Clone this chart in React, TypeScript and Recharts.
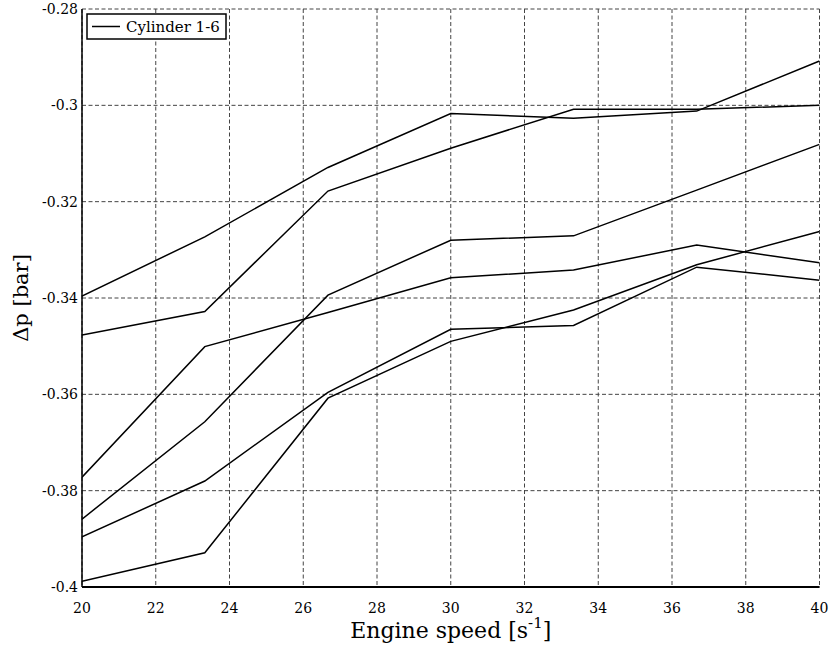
import { LineChart, Line, XAxis, YAxis, CartesianGrid, Label } from 'recharts'

// engine speed [1/s] at each measurement point
const speed = [20, 23.33, 26.67, 30, 33.33, 36.67, 40]

// pressure difference [bar], one array per cylinder
const cyl1 = [-0.3396, -0.3273, -0.3129, -0.3017, -0.3027, -0.3012, -0.2908]
const cyl2 = [-0.3477, -0.3428, -0.3178, -0.3089, -0.3008, -0.3008, -0.3]
const cyl3 = [-0.3772, -0.3501, -0.343, -0.3358, -0.3342, -0.329, -0.3327]
const cyl4 = [-0.3859, -0.3657, -0.3394, -0.328, -0.3271, -0.3176, -0.3081]
const cyl5 = [-0.3896, -0.378, -0.3596, -0.3465, -0.3457, -0.3336, -0.3363]
const cyl6 = [-0.3988, -0.3929, -0.3608, -0.349, -0.3425, -0.3331, -0.3262]

const xTicks = [20, 22, 24, 26, 28, 30, 32, 34, 36, 38, 40]
const yTicks = [-0.4, -0.38, -0.36, -0.34, -0.32, -0.3, -0.28]

const series = [cyl1, cyl2, cyl3, cyl4, cyl5, cyl6]

const data = speed.map((s, i) => {
    const row: Record<string, number> = { speed: s }
    series.forEach((vals, k) => {
        row[`c${k + 1}`] = vals[i]
    })
    return row
})

const FONT = 'DejaVu Serif'

const formatY = (v: number) => String(parseFloat(v.toFixed(2)))

function XTick(props: any) {
    const { x, y, payload } = props
    return (
        <text x={x} y={y + 18} textAnchor="middle" fontFamily={FONT} fontSize={14} fill="#000">
            {payload.value}
        </text>
    )
}

function YTick(props: any) {
    const { y, payload } = props
    return (
        <text x={78} y={y + 5} textAnchor="end" fontFamily={FONT} fontSize={14} fill="#000">
            {formatY(payload.value)}
        </text>
    )
}

function XTitle(props: any) {
    const vb = props.viewBox
    const cx = vb.x + vb.width / 2
    return (
        <text x={cx} y={638} textAnchor="middle" fontFamily={FONT} fontSize={22} fill="#000">
            Engine speed [s
            <tspan fontSize={15} dy={-10}>-1</tspan>
            <tspan dy={10}>]</tspan>
        </text>
    )
}

function YTitle(props: any) {
    const vb = props.viewBox
    const cy = vb.y + vb.height / 2
    return (
        <text
            x={28}
            y={cy}
            transform={`rotate(-90, 28, ${cy})`}
            textAnchor="middle"
            fontFamily={FONT}
            fontSize={21}
            fill="#000"
        >
            Δp [bar]
        </text>
    )
}

function LegendBox() {
    return (
        <svg
            width={141}
            height={27}
            style={{ position: 'absolute', left: 86, top: 13 }}
        >
            <rect x={1} y={1} width={139} height={25} fill="#fff" stroke="#000" strokeWidth={1.5} />
            <line x1={6} y1={13.5} x2={34} y2={13.5} stroke="#000" strokeWidth={1.5} />
            <text x={40} y={18.5} fontFamily={FONT} fontSize={15} fill="#000">
                Cylinder 1-6
            </text>
        </svg>
    )
}

export default function App() {
    return (
        <div style={{ position: 'absolute', left: 0, top: 0, width: 830, height: 648, background: '#fff' }}>
            <LineChart
                width={830}
                height={648}
                data={data}
                margin={{ top: 9, right: 10.5, bottom: 0, left: 0 }}
            >
                <CartesianGrid stroke="#444" strokeDasharray="4 2.5" strokeWidth={1} />
                <XAxis
                    dataKey="speed"
                    type="number"
                    domain={[20, 40]}
                    ticks={xTicks}
                    height={61}
                    tickLine={false}
                    axisLine={{ stroke: '#000', strokeWidth: 2 }}
                    tick={<XTick />}
                    allowDataOverflow
                >
                    <Label content={<XTitle />} />
                </XAxis>
                <XAxis
                    xAxisId="top"
                    orientation="top"
                    dataKey="speed"
                    type="number"
                    domain={[20, 40]}
                    ticks={xTicks}
                    height={0}
                    mirror
                    tick={false}
                    tickSize={5}
                    tickLine={{ stroke: '#000' }}
                    axisLine={{ stroke: '#000', strokeWidth: 1.5 }}
                />
                <YAxis
                    type="number"
                    domain={[-0.4, -0.28]}
                    ticks={yTicks}
                    width={82}
                    tickLine={false}
                    axisLine={{ stroke: '#000', strokeWidth: 1.5 }}
                    tick={<YTick />}
                    allowDataOverflow
                >
                    <Label content={<YTitle />} />
                </YAxis>
                <YAxis
                    yAxisId="right"
                    orientation="right"
                    type="number"
                    domain={[-0.4, -0.28]}
                    ticks={yTicks}
                    width={0}
                    mirror
                    tick={false}
                    tickSize={5}
                    tickLine={{ stroke: '#000' }}
                    axisLine={{ stroke: '#000', strokeWidth: 2 }}
                />
                {series.map((_, k) => (
                    <Line
                        key={k}
                        type="linear"
                        dataKey={`c${k + 1}`}
                        stroke="#000"
                        strokeWidth={1.5}
                        dot={false}
                        activeDot={false}
                        isAnimationActive={false}
                    />
                ))}
            </LineChart>
            <LegendBox />
        </div>
    )
}
